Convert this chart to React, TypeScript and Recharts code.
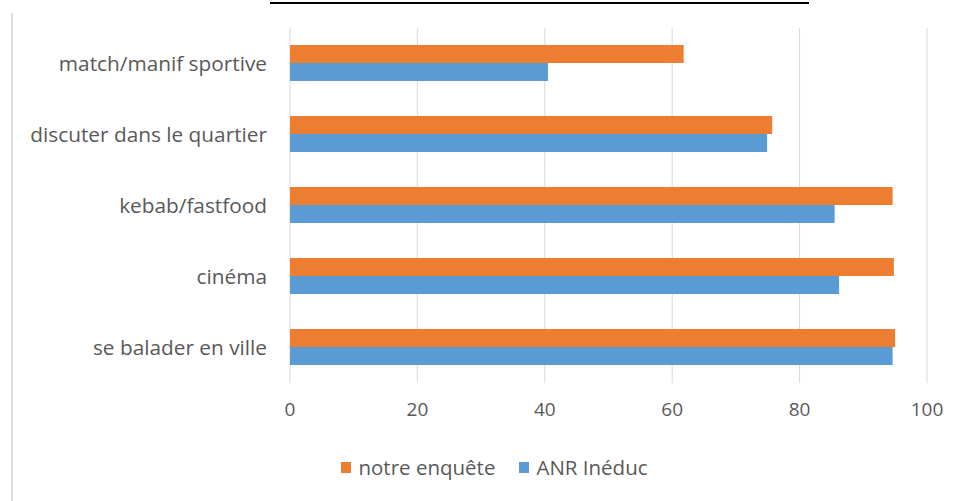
import { BarChart, Bar, XAxis, YAxis, CartesianGrid, Legend } from 'recharts'

const CATEGORIES = [
	'match/manif sportive',
	'discuter dans le quartier',
	'kebab/fastfood',
	'cinéma',
	'se balader en ville',
]
const NOTRE_ENQUETE = [61.8, 75.7, 94.6, 94.8, 95.0]
const ANR_INEDUC = [40.5, 74.9, 85.5, 86.2, 94.6]
const X_TICKS = [0, 20, 40, 60, 80, 100]

const SERIES = [
	{ key: 'notre', name: 'notre enquête', color: '#ED7D31' },
	{ key: 'anr', name: 'ANR Inéduc', color: '#5B9BD5' },
]

const data = CATEGORIES.map((name, i) => ({
	name,
	notre: NOTRE_ENQUETE[i],
	anr: ANR_INEDUC[i],
}))

const FONT = '"Open Sans", Lato, sans-serif'
const GREY = '#595959'

function LegendContent() {
	return (
		<div
			style={{
				display: 'flex',
				justifyContent: 'center',
				gap: 24,
				fontFamily: FONT,
				fontSize: 20.5,
				color: GREY,
				paddingLeft: 52,
			}}
		>
			{SERIES.map(s => (
				<div key={s.key} style={{ display: 'flex', alignItems: 'center', gap: 7 }}>
					<div style={{ width: 10, height: 11, background: s.color }} />
					<span>{s.name}</span>
				</div>
			))}
		</div>
	)
}

export default function App() {
	return (
		<div
			style={{
				position: 'relative',
				width: 961,
				height: 501,
				background: '#fff',
				overflow: 'hidden',
			}}
		>
			<style>{'body{margin:0}'}</style>
			{/* cropped title underline */}
			<div
				style={{
					position: 'absolute',
					left: 270,
					top: 2,
					width: 539,
					height: 2,
					background: '#000',
				}}
			/>
			{/* chart frame edge */}
			<div
				style={{
					position: 'absolute',
					left: 11,
					top: 13,
					width: 2,
					height: 490,
					background: '#dcdcdc',
				}}
			/>
			<BarChart
				width={961}
				height={501}
				data={data}
				layout='vertical'
				margin={{ top: 28, right: 34, left: 10, bottom: 18 }}
				barCategoryGap='24%'
				barGap={0}
			>
				<CartesianGrid horizontal={false} stroke='#d9d9d9' />
				<XAxis
					type='number'
					domain={[0, 100]}
					ticks={X_TICKS}
					axisLine={false}
					tickLine={false}
					tickSize={0}
					tickMargin={20}
					height={70}
					tick={{ fontSize: 19, fill: GREY, fontFamily: FONT }}
				/>
				<YAxis
					type='category'
					dataKey='name'
					width={280}
					axisLine={false}
					tickLine={false}
					tickSize={0}
					tickMargin={23}
					tick={{ fontSize: 20.8, fill: GREY, fontFamily: FONT }}
				/>
				<Legend verticalAlign='bottom' height={30} content={<LegendContent />} />
				{SERIES.map(s => (
					<Bar
						key={s.key}
						dataKey={s.key}
						name={s.name}
						fill={s.color}
						isAnimationActive={false}
					/>
				))}
			</BarChart>
		</div>
	)
}
